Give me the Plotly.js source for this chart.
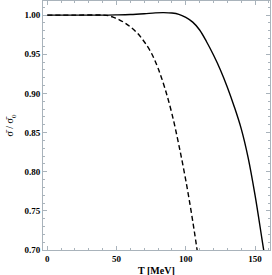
<!DOCTYPE html>
<html><head><meta charset="utf-8">
<script src="https://cdn.plot.ly/plotly-3.0.1.min.js"></script>
<style>html,body{margin:0;padding:0;background:#fff}#c{width:272px;height:275px}</style>
</head><body><div id="c"></div>
<script>
const solidT = [0, 20, 40, 50, 60, 70, 78, 84, 90, 95, 100, 105, 110, 115, 120, 125, 130, 135, 140, 145, 150, 155, 158];
const solidY = [1.000, 1.000, 1.000, 1.0003, 1.0008, 1.0018, 1.0028, 1.0031, 1.0026, 1.0010, 0.997, 0.991, 0.981, 0.966, 0.949, 0.930, 0.908, 0.883, 0.855, 0.818, 0.770, 0.714, 0.680];
const dashT = [0, 20, 40, 44, 48, 52, 56, 60, 65, 70, 75, 80, 85, 90, 95, 100, 105, 110];
const dashY = [1.000, 1.000, 1.000, 0.9993, 0.997, 0.994, 0.990, 0.985, 0.977, 0.966, 0.952, 0.932, 0.906, 0.874, 0.834, 0.789, 0.737, 0.678];
const xTicks = [0, 50, 100, 150];
const yTicks = [0.70, 0.75, 0.80, 0.85, 0.90, 0.95, 1.00];

const frame = '#a9b3bb';
const serif = 'Liberation Serif, Times New Roman, serif';
const tickFont = {family: serif, size: 9, color: '#000'};
const data = [
  {x: solidT, y: solidY, mode: 'lines', line: {color: '#000', width: 1.4, shape: 'spline', smoothing: 1}, showlegend: false, hoverinfo: 'skip'},
  {x: dashT, y: dashY, mode: 'lines', line: {color: '#000', width: 1.4, dash: '5px,3px', shape: 'spline', smoothing: 1}, showlegend: false, hoverinfo: 'skip'}
];
const layout = {
  width: 272, height: 275,
  margin: {l: 43, r: 2, t: 1, b: 25},
  paper_bgcolor: '#fff', plot_bgcolor: '#fff',
  xaxis: {
    range: [-3.1, 160.8], showgrid: false, zeroline: false,
    showline: true, linecolor: frame, linewidth: 1, mirror: 'ticks',
    ticks: 'inside', ticklen: 4, tickcolor: frame, tickwidth: 1,
    tickvals: xTicks, ticktext: xTicks.map(v => '<b>' + v + '</b>'),
    tickfont: tickFont,
    minor: {dtick: 10, tick0: 0, ticks: 'inside', ticklen: 2, tickcolor: frame, showgrid: false}
  },
  yaxis: {
    range: [0.70, 1.018], showgrid: false, zeroline: false,
    showline: true, linecolor: frame, linewidth: 1, mirror: 'ticks',
    ticks: 'inside', ticklen: 4, tickcolor: frame, tickwidth: 1,
    tickvals: yTicks, ticktext: yTicks.map(v => '<b>' + v.toFixed(2) + '</b>'),
    tickfont: tickFont,
    minor: {dtick: 0.01, tick0: 0.70, ticks: 'inside', ticklen: 2, tickcolor: frame, showgrid: false},
    title: {text: 'σ̄ / σ̄<sub>0</sub>', font: {family: serif, size: 10, color: '#000'}, standoff: 8}
  },
  annotations: [
    {text: '<b>T [MeV]</b>', xref: 'paper', yref: 'paper', x: 0.5, y: -0.082, xanchor: 'center', yanchor: 'middle',
     showarrow: false, font: {family: serif, size: 10, color: '#000'}}
  ]
};
Plotly.newPlot('c', data, layout, {staticPlot: true, displayModeBar: false});
</script></body></html>
